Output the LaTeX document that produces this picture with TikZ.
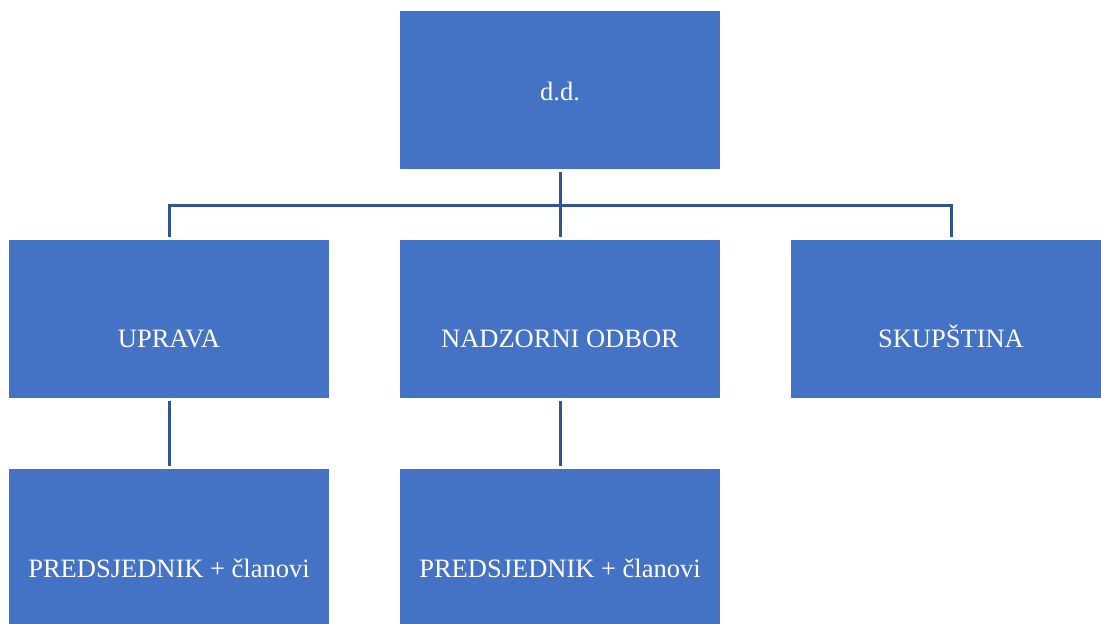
\documentclass[tikz,border=0pt]{standalone}
\usepackage{fontspec}
\setmainfont{Liberation Serif}
\definecolor{boxblue}{HTML}{4472C4}
\definecolor{lineblue}{HTML}{2F5597}
\begin{document}
\begin{tikzpicture}[x=1pt,y=-1pt,
  orgbox/.style={fill=boxblue,draw=none,inner sep=0pt,minimum width=320pt,minimum height=158pt,anchor=north west},
  orgtext/.style={text=white,inner sep=0pt,anchor=base,font=\fontsize{26.5}{30}\selectfont},
  conn/.style={draw=lineblue,line width=3pt,shorten <=3pt,shorten >=3pt}]
\useasboundingbox (0,0) rectangle (1101,624);
% boxes
\node[orgbox] (dd)  at (400,11) {};
\node[orgbox] (upr) at (9,240) {};
\node[orgbox] (nad) at (400,240) {};
\node[orgbox] (sku) at (791,240) {};
\node[orgbox] (p1)  at (9,469) {};
\node[orgbox] (p2)  at (400,469) {};
% texts
\node[orgtext] (ddt)  at (560,100) {d.d.};
\node[orgtext] (uprt) at (169,347) {UPRAVA};
\node[orgtext] (nadt) at (560,347) {NADZORNI ODBOR};
\node[orgtext] (skut) at (951,347) {SKUPŠTINA};
\node[orgtext] (p1t)  at (169,577) {PREDSJEDNIK + članovi};
\node[orgtext] (p2t)  at (560,577) {PREDSJEDNIK + članovi};
% connectors
\coordinate (bus) at (0,205);
\draw[conn] (dd.south) -- (nad.north);
\draw[conn,shorten <=3pt,shorten >=3pt] (upr.north) -- (upr.north |- bus) -- (sku.north |- bus) -- (sku.north);
\draw[conn] (upr.south) -- (p1.north);
\draw[conn] (nad.south) -- (p2.north);
\end{tikzpicture}
\end{document}
